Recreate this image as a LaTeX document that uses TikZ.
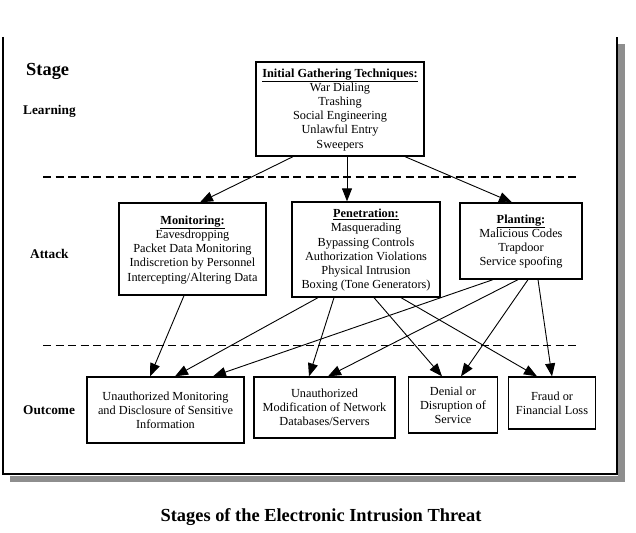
\documentclass[tikz,border=0pt]{standalone}
\usepackage{fontspec}
\setmainfont{Liberation Serif}
\usetikzlibrary{arrows.meta}

\newcommand\boxfont{\fontsize{12.3}{14.2}\selectfont}
\newcommand\stagefont{\fontsize{13.3}{16}\selectfont\bfseries}
\newcommand\titlefont{\fontsize{18.4}{22}\selectfont\bfseries}
% underlined bold heading that keeps the regular line spacing
\newcommand\head[1]{\smash{\underline{\textbf{#1}}}\strut}

\definecolor{shadowgray}{RGB}{142,142,142}

\begin{document}
\begin{tikzpicture}[x=1pt,y=-1pt,
  box/.style={draw, line width=1.3pt, align=center, inner sep=0pt, font=\boxfont},
  conn/.style={line width=0.9pt, -{Triangle[length=13pt,width=10pt]}},
  divider/.style={line width=1.2pt, dash pattern=on 8pt off 4.5pt},
  stagelabel/.style={anchor=base west, inner sep=0pt, font=\stagefont}]

\useasboundingbox (0,0) rectangle (636,532);

% drop shadow and open-topped frame
\fill[shadowgray] (618,44) rectangle (625,482);
\fill[shadowgray] (10,475.5) rectangle (625,482);
\draw[line width=1.4pt] (3,37) -- (3,474) -- (617,474) -- (617,37);

% stage labels
\node[anchor=base west, inner sep=0pt, font=\titlefont] (stage) at (26,76) {Stage};
\node[stagelabel] (learning) at (23,114) {Learning};
\node[stagelabel] (attack) at (30,258) {Attack};
\node[stagelabel] (outcome) at (23,414) {Outcome};

% stage separators
\draw[divider] (43,177) -- (577,177);
\draw[divider] (43,345.5) -- (577,345.5);

% learning stage
\node[box, minimum width=168pt, minimum height=94pt] (init) at (340,109)
  {\head{Initial Gathering Techniques:}\\War Dialing\\Trashing\\Social Engineering\\Unlawful Entry\\Sweepers};

% attack stage
\node[box, minimum width=147pt, minimum height=92pt] (mon) at (192.5,249)
  {\head{Monitoring:}\\Eavesdropping\\Packet Data Monitoring\\Indiscretion by Personnel\\Intercepting/Altering Data};
\node[box, minimum width=148pt, minimum height=95pt] (pen) at (366,249.5)
  {\head{Penetration:}\\Masquerading\\Bypassing Controls\\Authorization Violations\\Physical Intrusion\\Boxing (Tone Generators)};
\node[box, minimum width=122pt, minimum height=76pt] (plant) at (521,241)
  {\head{Planting:}\\Malicious Codes\\Trapdoor\\Service spoofing};

% outcome stage
\node[box, minimum width=157pt, minimum height=66pt] (discl) at (165.5,410)
  {Unauthorized Monitoring\\and Disclosure of Sensitive\\Information};
\node[box, minimum width=141pt, minimum height=61pt] (modif) at (324.5,407.5)
  {Unauthorized\\Modification of Network\\Databases/Servers};
\node[box, minimum width=89pt, minimum height=56pt] (denial) at (453,405)
  {Denial or\\Disruption of\\Service};
\node[box, minimum width=87pt, minimum height=52pt] (fraud) at (552,403)
  {Fraud or\\Financial Loss};

% learning -> attack
\draw[conn] ([xshift=-47pt]init.south) -- ([xshift=7.5pt]mon.north);
\draw[conn] ([xshift=7pt]init.south) -- ([xshift=-19pt]pen.north);
\draw[conn] ([xshift=65pt]init.south) -- ([xshift=-9pt]plant.north);

% attack -> outcome
\draw[conn] ([xshift=-8.5pt]mon.south) -- ([xshift=-15.5pt]discl.north);
\draw[conn] ([xshift=-48pt]pen.south) -- ([xshift=9.5pt]discl.north);
\draw[conn] ([xshift=-28pt]plant.south) -- ([xshift=47.5pt]discl.north);
\draw[conn] ([xshift=-32pt]pen.south) -- ([xshift=-15.5pt]modif.north);
\draw[conn] ([xshift=-3pt]plant.south) -- ([xshift=3.5pt]modif.north);
\draw[conn] ([xshift=8pt]pen.south) -- ([xshift=-11pt]denial.north);
\draw[conn] ([xshift=7pt]plant.south) -- ([xshift=8pt]denial.north);
\draw[conn] ([xshift=35pt]pen.south) -- ([xshift=-15pt]fraud.north);
\draw[conn] ([xshift=17pt]plant.south) -- ([xshift=0pt]fraud.north);

% caption
\node[anchor=base, inner sep=0pt, font=\titlefont] (caption) at (321,521)
  {Stages of the Electronic Intrusion Threat};
\end{tikzpicture}
\end{document}
